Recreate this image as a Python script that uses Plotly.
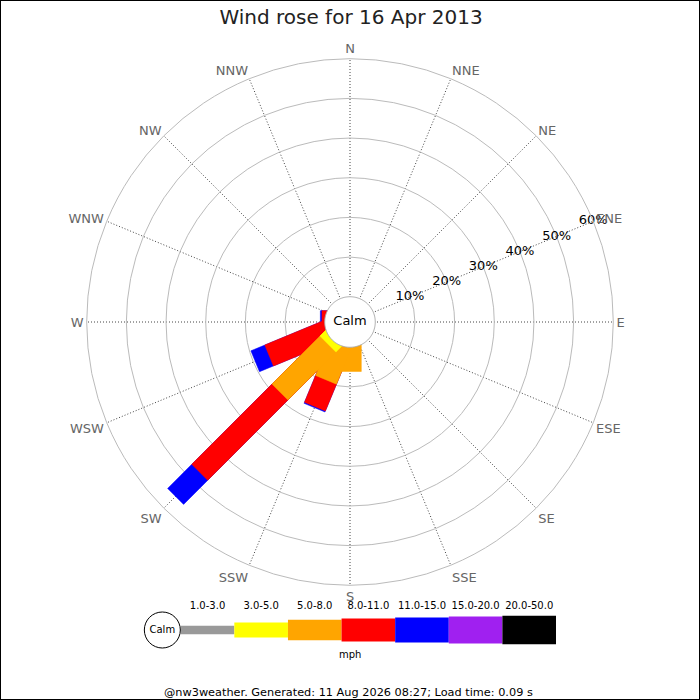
import math
import plotly.graph_objects as go

# ---------------- data ----------------
directions = ["N", "NNE", "NE", "ENE", "E", "ESE", "SE", "SSE",
              "S", "SSW", "SW", "WSW", "W", "WNW", "NW", "NNW"]
dir_angles = [0, 22.5, 45, 67.5, 90, 112.5, 135, 157.5,
              180, 202.5, 225, 247.5, 270, 292.5, 315, 337.5]
speed_bins = ["1.0-3.0", "3.0-5.0", "5.0-8.0", "8.0-11.0",
              "11.0-15.0", "15.0-20.0", "20.0-50.0"]
# percentage of the day per direction, one list per speed bin (mph)
pct_1_3   = [0, 0, 0, 0, 0, 0, 0, 0, 0.0, 0.0, 0.0, 0.0, 0.0, 0, 0, 0]
pct_3_5   = [0, 0, 0, 0, 0, 0, 0, 0, 0.0, 0.0, 1.5, 0.0, 0.0, 0, 0, 0]
pct_5_8   = [0, 0, 0, 0, 0, 0, 0, 0, 6.1, 9.4, 17.1, 0.0, 0.0, 0, 0, 0]
pct_8_11  = [0, 0, 0, 0, 0, 0, 0, 0, 0.0, 7.3, 28.6, 15.7, 0.7, 0, 0, 0]
pct_11_15 = [0, 0, 0, 0, 0, 0, 0, 0, 0.0, 0.3, 8.6, 3.8, 0.4, 0, 0, 0]
pct_15_20 = [0, 0, 0, 0, 0, 0, 0, 0, 0.0, 0.0, 0.0, 0.0, 0.0, 0, 0, 0]
pct_20_50 = [0, 0, 0, 0, 0, 0, 0, 0, 0.0, 0.0, 0.0, 0.0, 0.0, 0, 0, 0]
ring_ticks = [10, 20, 30, 40, 50, 60]
ring_labels = ["10%", "20%", "30%", "40%", "50%", "60%"]
title_text = "Wind rose for 16 Apr 2013"
unit_text = "mph"
footer_text = "@nw3weather. Generated: 11 Aug 2026 08:27; Load time: 0.09 s"

# ---------------- style ----------------
bin_colors = ["#999999", "#ffff00", "#ffa500", "#ff0000",
              "#0000ff", "#a020f0", "#000000"]
legend_heights = [8.3, 15, 20.3, 23, 25, 27, 28.6]
CALM_R = 6.37      # calm circle radius in radial-axis units
HALF_W = 2.85      # half bar width in radial-axis units
FONT = "DejaVu Sans"

series = [pct_1_3, pct_3_5, pct_5_8, pct_8_11, pct_11_15, pct_15_20, pct_20_50]

fig = go.Figure()


def rect_polar(theta, d_end):
    """Rectangle from polar centre out to distance d_end, along theta."""
    rs, ts = [], []
    for d, p in [(0, -HALF_W), (d_end, -HALF_W), (d_end, HALF_W), (0, HALF_W), (0, -HALF_W)]:
        rho = math.hypot(d, p)
        phi = theta + math.degrees(math.atan2(p, d))
        rs.append(rho - CALM_R)
        ts.append(phi)
    return rs, ts


# cumulative stacks; draw highest bin first so lower bins lie on top
cum = []
running = [0.0] * len(directions)
for s in series:
    running = [a + b for a, b in zip(running, s)]
    cum.append(list(running))

for b in range(len(series) - 1, -1, -1):
    for i, ang in enumerate(dir_angles):
        if series[b][i] <= 0:
            continue
        rs, ts = rect_polar(ang, CALM_R + cum[b][i])
        fig.add_trace(go.Scatterpolar(
            r=rs, theta=ts, mode="lines", fill="toself",
            fillcolor=bin_colors[b], line=dict(color=bin_colors[b], width=0.5),
            hoverinfo="skip", showlegend=False))

# calm circle
fig.add_trace(go.Scatterpolar(
    r=[0] * 181, theta=[k * 2 for k in range(181)], mode="lines", fill="toself",
    fillcolor="white", line=dict(color="#aaaaaa", width=1),
    hoverinfo="skip", showlegend=False))
fig.add_trace(go.Scatterpolar(
    r=[-CALM_R], theta=[0], mode="text", text=["Calm"],
    textfont=dict(family=FONT, size=13, color="black"),
    hoverinfo="skip", showlegend=False, cliponaxis=False))

# ring percentage labels along ENE
fig.add_trace(go.Scatterpolar(
    r=ring_ticks, theta=[67.5] * len(ring_ticks), mode="text", text=ring_labels,
    textfont=dict(family=FONT, size=13, color="black"),
    hoverinfo="skip", showlegend=False, cliponaxis=False))

# ---------------- legend strip ----------------
xs = list(range(1, len(speed_bins) + 1))
fig.add_trace(go.Bar(
    x=xs, y=legend_heights, base=[-h / 2 for h in legend_heights], width=1,
    marker=dict(color=bin_colors, line=dict(width=0)),
    xaxis="x", yaxis="y", hoverinfo="skip", showlegend=False))
fig.add_trace(go.Scatter(
    x=[0.157], y=[0], mode="markers+text", text=["Calm"], textposition="middle center",
    marker=dict(size=36, color="white", line=dict(color="black", width=1)),
    textfont=dict(family=FONT, size=10, color="black"),
    xaxis="x", yaxis="y", hoverinfo="skip", showlegend=False, cliponaxis=False))

fig.update_layout(
    width=700, height=700,
    margin=dict(l=0, r=0, t=0, b=0),
    paper_bgcolor="white", plot_bgcolor="white",
    font=dict(family=FONT),
    title=dict(text=title_text, x=351 / 700, xanchor="center", y=1 - 17 / 700, yanchor="middle",
               font=dict(family=FONT, size=20, color="#222222")),
    polar=dict(
        domain=dict(x=[86.7 / 700, 613.3 / 700], y=[1 - 585.3 / 700, 1 - 58.7 / 700]),
        bgcolor="white",
        radialaxis=dict(range=[-CALM_R, 60], tickvals=ring_ticks, showticklabels=False,
                        ticks="", showline=False, gridcolor="#bbbbbb", gridwidth=1),
        angularaxis=dict(rotation=90, direction="clockwise", tickmode="array",
                         tickvals=dir_angles, ticktext=directions, ticks="",
                         showline=True, linecolor="#bbbbbb", linewidth=1,
                         gridcolor="#444444", griddash="1px,2px", gridwidth=1,
                         tickfont=dict(family=FONT, size=13, color="#666666")),
    ),
    xaxis=dict(domain=[144 / 700, 556 / 700], range=[-0.185, 7.5], side="top",
               tickmode="array", tickvals=xs, ticktext=speed_bins, ticks="", tickangle=0,
               showgrid=False, zeroline=False, showline=False, fixedrange=True,
               tickfont=dict(family=FONT, size=10, color="black")),
    yaxis=dict(domain=[1 - 648 / 700, 1 - 612 / 700], range=[-18, 18], visible=False,
               fixedrange=True),
    annotations=[
        dict(text=unit_text, x=350 / 700, y=1 - 654 / 700, xref="paper", yref="paper",
             xanchor="center", yanchor="middle", showarrow=False,
             font=dict(family=FONT, size=10, color="black")),
        dict(text=footer_text, x=348 / 700, y=1 - 692.5 / 700, xref="paper", yref="paper",
             xanchor="center", yanchor="middle", showarrow=False,
             font=dict(family=FONT, size=11.3, color="black")),
    ],
    shapes=[dict(type="rect", xref="paper", yref="paper", x0=0, x1=1, y0=0, y1=1,
                 line=dict(color="black", width=2))],
)

fig.write_html("out.html", config={"displayModeBar": False},
               post_script="document.body.style.margin='0px';document.body.style.overflow='hidden';")
